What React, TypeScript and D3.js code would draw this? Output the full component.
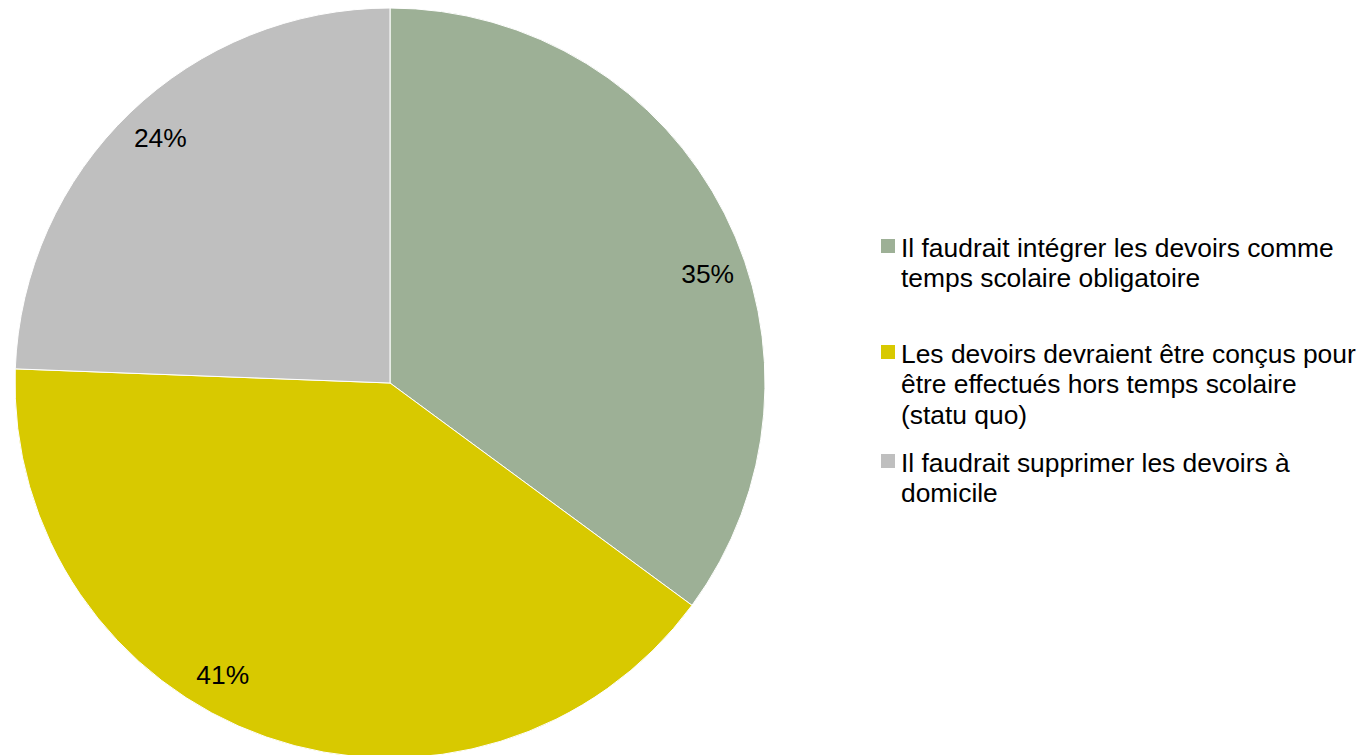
import React from "react";
import * as d3 from "d3";

const categories = [
  "Il faudrait intégrer les devoirs comme temps scolaire obligatoire",
  "Les devoirs devraient être conçus pour être effectués hors temps scolaire (statu quo)",
  "Il faudrait supprimer les devoirs à domicile",
];
const legendLines = [
  ["Il faudrait intégrer les devoirs comme", "temps scolaire obligatoire"],
  ["Les devoirs devraient être conçus pour", "être effectués hors temps scolaire", "(statu quo)"],
  ["Il faudrait supprimer les devoirs à", "domicile"],
];
const values = [35.1, 40.5, 24.4];
const colors = ["#9DB096", "#D8C900", "#BFBFBF"];
const labelAngleShift = [7.8, 10.6, 0.8];

const W = 1367;
const H = 755;
const cx = 390;
const cy = 383;
const R = 375;
const labelR = 336;
const FONT = "'Liberation Sans', Arial, sans-serif";
const FS = 26.4;

export default function App() {
  const pie = d3.pie<number>().sort(null).value((d) => d)(values);
  const arc = d3.arc<d3.PieArcDatum<number>>().innerRadius(0).outerRadius(R);
  const total = d3.sum(values);
  const legendTop = [256.5, 362.5, 471.5];
  const lineH = 30.7;
  return (
    <svg width={W} height={H} style={{ position: "absolute", left: 0, top: 0 }}>
      <rect width={W} height={H} fill="#fff" />
      <g transform={`translate(${cx},${cy})`}>
        {pie.map((p, i) => (
          <path key={i} d={arc(p) || ""} fill={colors[i]} stroke="#fff" strokeWidth={1} />
        ))}
        {pie.map((p, i) => {
          const a = (p.startAngle + p.endAngle) / 2 + (labelAngleShift[i] * Math.PI) / 180;
          const x = labelR * Math.sin(a);
          const y = -labelR * Math.cos(a);
          return (
            <text key={i} x={x} y={y + 9.5} textAnchor="middle" fontFamily={FONT} fontSize={FS} fill="#000">
              {Math.round((values[i] / total) * 100)}%
            </text>
          );
        })}
      </g>
      {categories.map((c, i) => (
        <g key={i}>
          <rect x={881} y={legendTop[i] - 17.5} width={14} height={14} fill={colors[i]} />
          <text fontFamily={FONT} fontSize={FS} fill="#000">
            {legendLines[i].map((l, j) => (
              <tspan key={j} x={901} y={legendTop[i] + j * lineH}>
                {l}
              </tspan>
            ))}
          </text>
        </g>
      ))}
    </svg>
  );
}
